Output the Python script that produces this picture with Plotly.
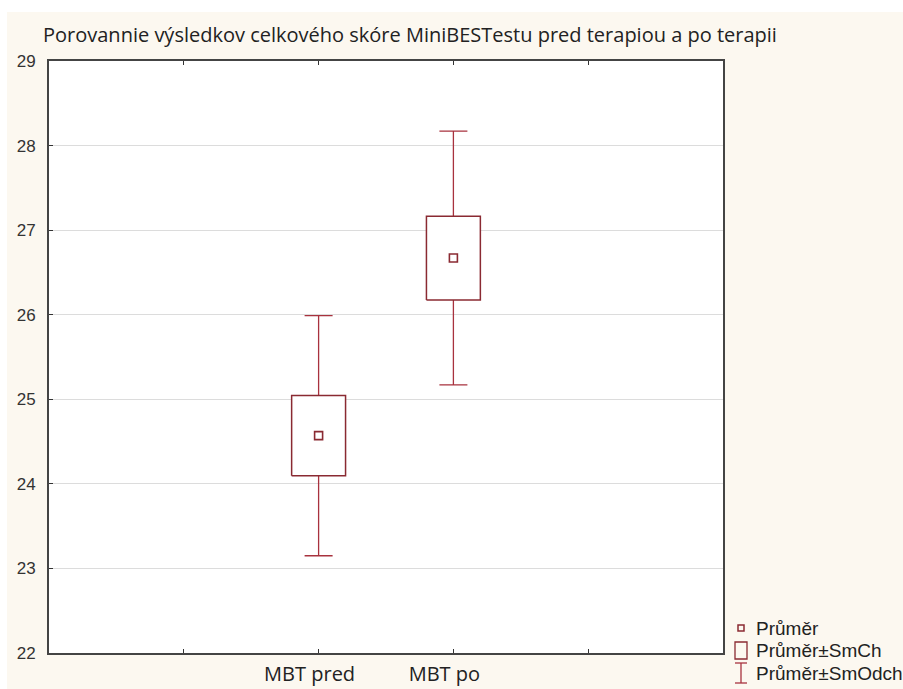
import plotly.graph_objects as go

categories = ["MBT pred", "MBT po"]
means = [24.57, 26.67]
se = [0.475, 0.495]
sd = [1.42, 1.50]
yticks = [22, 23, 24, 25, 26, 27, 28, 29]
title_text = "Porovannie výsledkov celkového skóre MiniBESTestu pred terapiou a po terapii"
legend_labels = ["Průměr", "Průměr±SmCh", "Průměr±SmOdch"]

RED = "#a8323e"
DARK = "#8a2a32"
W, H = 903, 689
L, R, T, B = 49, 180, 61, 36
pw, ph = W - L - R, H - T - B

xpos = [i + 2 for i in range(len(categories))]
half = 0.2

fig = go.Figure()

# whiskers (mean ± SD)
fig.add_trace(go.Scatter(
    x=xpos, y=means, mode="markers", marker=dict(size=0.1, color="rgba(0,0,0,0)"),
    error_y=dict(type="data", array=sd, symmetric=True, color=RED, thickness=1.3, width=14),
    showlegend=False, hoverinfo="skip"))

# boxes (mean ± SE)
for xp, m, s in zip(xpos, means, se):
    fig.add_trace(go.Scatter(
        x=[xp - half, xp + half, xp + half, xp - half, xp - half],
        y=[m - s, m - s, m + s, m + s, m - s],
        mode="lines", fill="toself", fillcolor="white",
        line=dict(color=DARK, width=1.5), showlegend=False, hoverinfo="skip"))

# means
fig.add_trace(go.Scatter(
    x=xpos, y=means, mode="markers",
    marker=dict(symbol="square-open", size=8, color=DARK, line=dict(width=1.6)),
    showlegend=False))

def px2paper_x(px):
    return (px - L) / pw

def px2paper_y(py):
    return (H - B - py) / ph

shapes = [
    dict(type="rect", xref="paper", yref="paper", layer="below",
         x0=px2paper_x(7), x1=px2paper_x(W + 5), y0=px2paper_y(H + 5), y1=px2paper_y(12),
         fillcolor="#fcf8f0", line=dict(width=0)),
    dict(type="rect", xref="paper", yref="paper", layer="below",
         x0=0, x1=1, y0=0, y1=1, fillcolor="white", line=dict(width=0)),
]

# legend (drawn manually)
lx = 741
ly = [628, 650, 673]
shapes.append(dict(type="rect", xref="paper", yref="paper",
                   x0=px2paper_x(lx - 3), x1=px2paper_x(lx + 3), y0=px2paper_y(ly[0] + 3), y1=px2paper_y(ly[0] - 3),
                   line=dict(color=DARK, width=1.5)))
shapes.append(dict(type="rect", xref="paper", yref="paper",
                   x0=px2paper_x(lx - 6), x1=px2paper_x(lx + 6), y0=px2paper_y(ly[1] + 9), y1=px2paper_y(ly[1] - 8),
                   line=dict(color=DARK, width=1.3)))
shapes.append(dict(type="line", xref="paper", yref="paper",
                   x0=px2paper_x(lx), x1=px2paper_x(lx), y0=px2paper_y(ly[2] + 10), y1=px2paper_y(ly[2] - 10),
                   line=dict(color=RED, width=1.3)))
shapes.append(dict(type="line", xref="paper", yref="paper",
                   x0=px2paper_x(lx - 6), x1=px2paper_x(lx + 6), y0=px2paper_y(ly[2] + 10), y1=px2paper_y(ly[2] + 10),
                   line=dict(color=RED, width=1.3)))
shapes.append(dict(type="line", xref="paper", yref="paper",
                   x0=px2paper_x(lx - 6), x1=px2paper_x(lx + 6), y0=px2paper_y(ly[2] - 10), y1=px2paper_y(ly[2] - 10),
                   line=dict(color=RED, width=1.3)))

annotations = []
for lab, yy in zip(legend_labels, ly):
    annotations.append(dict(text=lab, xref="paper", yref="paper", x=px2paper_x(754), y=px2paper_y(yy),
                            xanchor="left", yanchor="middle", showarrow=False,
                            font=dict(family="Liberation Sans", size=19, color="#222")))
annotations.append(dict(text=title_text, xref="paper", yref="paper", x=px2paper_x(41), y=px2paper_y(34),
                        xanchor="left", yanchor="middle", showarrow=False,
                        font=dict(family="Open Sans", size=20, color="#222")))

fig.update_layout(
    width=W, height=H, margin=dict(l=L, r=R, t=T, b=B, autoexpand=False),
    paper_bgcolor="white", plot_bgcolor="white",
    shapes=shapes, annotations=annotations, showlegend=False,
    xaxis=dict(range=[0, 5], tickvals=[1, 2, 3, 4], ticktext=["", categories[0], categories[1], ""],
               automargin=False,
               ticks="inside", ticklen=4, tickcolor="#333", showgrid=False, zeroline=False,
               showline=True, linecolor="#444", linewidth=2, mirror="ticks",
               ticklabelstandoff=2, ticklabelshift=-9,
               tickfont=dict(family="Open Sans", size=20, color="#222")),
    yaxis=dict(range=[22, 29], tickvals=yticks, ticks="inside", ticklen=4, tickcolor="#333",
               automargin=False,
               showgrid=True, gridcolor="#dcdcdc", gridwidth=1.2, zeroline=False,
               showline=True, linecolor="#444", linewidth=2, mirror=True,
               ticklabelstandoff=8,
               tickfont=dict(family="Liberation Sans", size=17, color="#333")),
)

fig.write_html("out.html", config={"displayModeBar": False},
               post_script="document.body.style.margin='0px';document.body.style.overflow='hidden';")
